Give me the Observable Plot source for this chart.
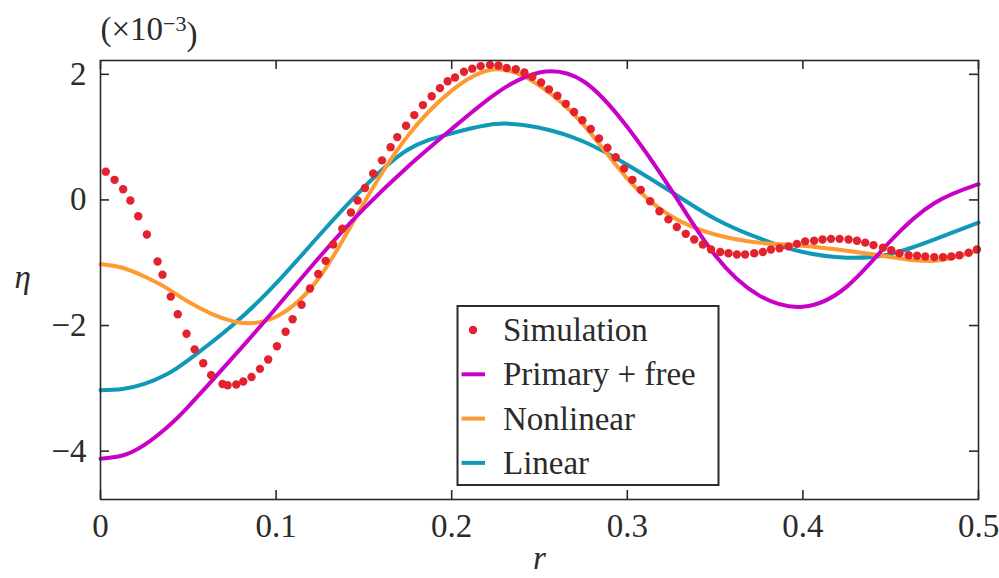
<!DOCTYPE html>
<html>
<head>
<meta charset="utf-8">
<script src="https://cdn.jsdelivr.net/npm/d3@7"></script>
<script src="https://cdn.jsdelivr.net/npm/@observablehq/plot@0.6"></script>
<style>
  body { margin: 0; background: #fff; }
</style>
</head>
<body>
<div id="chart"></div>
<script>
// simulation points (r, eta x 1e-3)
const simR = [0.003, 0.008, 0.0129, 0.017, 0.0215, 0.0264, 0.0325, 0.0353, 0.040, 0.044,
  0.049, 0.0536, 0.0585, 0.063, 0.0695, 0.0724, 0.0773, 0.0813, 0.086, 0.0908,
  0.0955, 0.1005, 0.1054, 0.1094, 0.1145, 0.1193, 0.124, 0.1282, 0.1325, 0.1377,
  0.1426, 0.1464, 0.1506, 0.1553, 0.1603, 0.1652, 0.169, 0.174, 0.1787, 0.1836,
  0.1886, 0.1933, 0.1977, 0.2019, 0.207, 0.2117, 0.2165, 0.2218, 0.2266, 0.2313,
  0.2365, 0.2414, 0.2459, 0.2509, 0.2554, 0.2602, 0.265, 0.2697, 0.2744, 0.2792,
  0.2839, 0.2887, 0.2934, 0.2982, 0.3029, 0.3077, 0.313, 0.3183, 0.3234, 0.3282,
  0.3333, 0.3381, 0.343, 0.3477, 0.3529, 0.3576, 0.3624, 0.3671, 0.3723, 0.3772,
  0.3818, 0.3867, 0.3918, 0.3966, 0.4013, 0.4064, 0.4112, 0.416, 0.4209, 0.426,
  0.4308, 0.4355, 0.4402, 0.4456, 0.4503, 0.455, 0.4602, 0.465, 0.4697, 0.4748,
  0.4798, 0.4845, 0.4892, 0.4944, 0.4991]
const simEta = [0.45, 0.32, 0.17, -0.01, -0.26, -0.55, -0.98, -1.19, -1.54, -1.82,
  -2.13, -2.38, -2.60, -2.79, -2.93, -2.95, -2.94, -2.89, -2.82, -2.69,
  -2.54, -2.33, -2.10, -1.90, -1.67, -1.41, -1.18, -0.97, -0.71, -0.46,
  -0.20, -0.01, 0.19, 0.42, 0.63, 0.84, 1.00, 1.18, 1.35, 1.51,
  1.65, 1.78, 1.89, 1.95, 2.04, 2.09, 2.13, 2.15, 2.14, 2.10,
  2.08, 2.03, 1.96, 1.87, 1.76, 1.66, 1.53, 1.40, 1.27, 1.13,
  0.98, 0.83, 0.68, 0.50, 0.32, 0.16, -0.02, -0.18, -0.31, -0.43,
  -0.54, -0.63, -0.71, -0.79, -0.83, -0.85, -0.87, -0.87, -0.85, -0.83,
  -0.79, -0.77, -0.74, -0.70, -0.66, -0.65, -0.63, -0.62, -0.62, -0.63,
  -0.65, -0.68, -0.72, -0.76, -0.80, -0.85, -0.88, -0.89, -0.90, -0.91,
  -0.91, -0.90, -0.88, -0.84, -0.79]

// model curves at these radii
const curveR = [0, 0.0125, 0.025, 0.0375, 0.05, 0.075, 0.1, 0.125, 0.15, 0.175, 0.2, 0.225, 0.25,
  0.275, 0.3, 0.325, 0.35, 0.375, 0.4, 0.425, 0.45, 0.475, 0.5]
const primEta = [-4.12, -4.07, -3.90, -3.63, -3.29, -2.52, -1.72, -0.90, -0.14, 0.53, 1.13, 1.69, 2.03,
  1.89, 1.16, 0.16, -0.88, -1.52, -1.70, -1.38, -0.65, -0.05, 0.25]
const nonlEta = [-1.02, -1.08, -1.22, -1.40, -1.62, -1.93, -1.86, -1.22, -0.05, 1.02, 1.74, 2.08, 1.82,
  1.20, 0.34, -0.26, -0.55, -0.68, -0.73, -0.81, -0.91, -0.97, -0.80]
const linEta = [-3.03, -3.01, -2.93, -2.78, -2.55, -2.00, -1.33, -0.55, 0.20, 0.80, 1.06, 1.21, 1.15,
  0.93, 0.56, 0.13, -0.30, -0.61, -0.83, -0.92, -0.86, -0.63, -0.36]

const xTicks = [0, 0.1, 0.2, 0.3, 0.4, 0.5]
const yTicks = [-4, -2, 0, 2]

const seriesNames = ["Simulation", "Primary + free", "Nonlinear", "Linear"]
const seriesColors = ["#e2232f", "#c800c8", "#ff9a33", "#1098b8"]

const W = 999, H = 578
const mL = 100, mR = 21, mT = 60, mB = 79
const frameW = W - mL - mR, frameH = H - mT - mB
const ink = "#2b2b2b"
const serif = "'Liberation Serif', 'Times New Roman', serif"
const fs = 33

const sim = simR.map((r, i) => ({r, eta: simEta[i]}))
const toRows = es => curveR.map((r, i) => ({r, eta: es[i]}))
const prim = toRows(primEta)
const nonl = toRows(nonlEta)
const lin = toRows(linEta)

const fmtY = d => d < 0 ? "\u2212" + Math.abs(d) : String(d)

const chart = Plot.plot({
  width: W,
  height: H,
  marginLeft: mL,
  marginRight: mR,
  marginTop: mT,
  marginBottom: mB,
  x: {domain: [0, 0.5]},
  y: {domain: [-4.77, 2.22]},
  style: {
    fontFamily: serif,
    fontSize: fs + "px",
    color: ink,
    background: "#fff"
  },
  marks: [
    Plot.line(lin, {x: "r", y: "eta", stroke: seriesColors[3], strokeWidth: 4, curve: "natural"}),
    Plot.line(nonl, {x: "r", y: "eta", stroke: seriesColors[2], strokeWidth: 4, curve: "natural"}),
    Plot.line(prim, {x: "r", y: "eta", stroke: seriesColors[1], strokeWidth: 4, curve: "natural"}),
    Plot.dot(sim, {x: "r", y: "eta", r: 4.2, fill: seriesColors[0], stroke: "none"}),
    Plot.frame({stroke: ink, strokeWidth: 1.6}),
    // inward ticks on all four sides
    Plot.tickX(xTicks, {x: d => d, insetTop: frameH - 9, stroke: ink, strokeWidth: 1.6}),
    Plot.tickX(xTicks, {x: d => d, insetBottom: frameH - 9, stroke: ink, strokeWidth: 1.6}),
    Plot.tickY(yTicks, {y: d => d, insetRight: frameW - 9, stroke: ink, strokeWidth: 1.6}),
    Plot.tickY(yTicks, {y: d => d, insetLeft: frameW - 9, stroke: ink, strokeWidth: 1.6}),
    Plot.axisX(xTicks, {tickSize: 0, tickPadding: 14, label: null, tickFormat: d => String(d), fontSize: fs}),
    Plot.axisY(yTicks, {tickSize: 0, tickPadding: 14, label: null, tickFormat: fmtY, fontSize: fs}),
    Plot.text(["r"], {frameAnchor: "bottom", dy: 69, fontStyle: "italic", fontSize: fs}),
    Plot.text(["\u03b7"], {frameAnchor: "left", dx: -86, dy: -3, fontStyle: "italic", fontSize: fs}),
    Plot.text(["(\u00d710"], {frameAnchor: "top-left", dy: -44, textAnchor: "start", fontSize: fs})
  ]
})

const svg = d3.select(chart)

// superscript for the multiplier
svg.selectAll("text").filter(function () { return this.textContent === "(\u00d710" }).each(function () {
  const t = d3.select(this)
  t.append("tspan").attr("dy", "-0.42em").attr("font-size", "22px").text("\u22123")
  t.append("tspan").attr("dy", "0.42em").text(")")
})

// legend box inside the frame
const lg = svg.append("g").attr("font-family", serif).attr("font-size", fs).attr("text-anchor", "start")
const lx = 457.5, ly = 306, lw = 261, lh = 179
lg.append("rect").attr("x", lx).attr("y", ly).attr("width", lw).attr("height", lh)
  .attr("fill", "#fff").attr("stroke", ink).attr("stroke-width", 2)
seriesNames.forEach((name, i) => {
  const cy = ly + 24 + i * 44.3
  if (i === 0) {
    lg.append("circle").attr("cx", lx + 15.5).attr("cy", cy).attr("r", 4.2).attr("fill", seriesColors[0])
  } else {
    lg.append("line").attr("x1", lx + 4).attr("x2", lx + 27.5).attr("y1", cy).attr("y2", cy)
      .attr("stroke", seriesColors[i]).attr("stroke-width", 4)
  }
  lg.append("text").attr("x", lx + 45.5).attr("y", cy + 11).attr("fill", ink).attr("text-anchor", "start").text(name)
})

d3.select("#chart").append(() => chart)
</script>
</body>
</html>
